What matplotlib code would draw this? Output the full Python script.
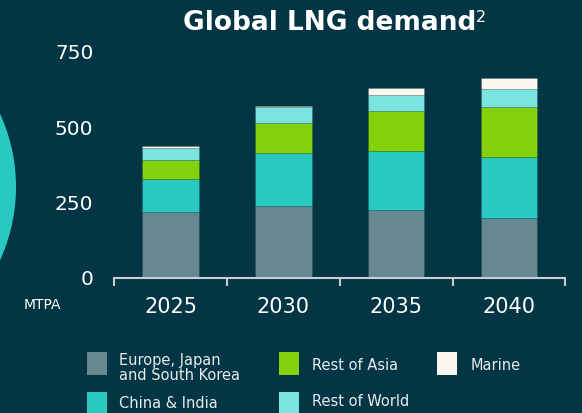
import matplotlib
matplotlib.use("Agg")
import matplotlib.pyplot as plt
from matplotlib.patches import Rectangle, Ellipse
import numpy as np

# Datos (MTPA)
years = ["2025", "2030", "2035", "2040"]
europe_japan_korea = [219, 239, 225, 198]
china_india = [110, 175, 195, 202]
rest_of_asia = [61, 100, 134, 166]
rest_of_world = [40, 52, 52, 59]
marine = [8, 5, 23, 39]

labels = ["Europe, Japan\nand South Korea", "China & India", "Rest of Asia",
          "Rest of World", "Marine"]
colors = ["#668890", "#29c9c1", "#84d20c", "#7ae5e0", "#faf7f0"]
bg = "#033645"

W, H = 582, 413
fig = plt.figure(figsize=(W / 100, H / 100), dpi=100, facecolor=bg)

def fx(px):
    return px / W

def fy(py):
    return 1 - py / H

# circulo decorativo a la izquierda
fig.add_artist(Ellipse((fx(-160), fy(187)), 2 * 176 / W, 2 * 176 / H,
                       facecolor="#29c9c1", edgecolor="none",
                       transform=fig.transFigure))

ax = fig.add_axes([fx(114.3), fy(277.7), (565.3 - 114.3) / W, (277.7 - 51.7) / H])
ax.set_facecolor(bg)

series = [europe_japan_korea, china_india, rest_of_asia, rest_of_world, marine]
x = np.arange(len(years))
bottom = np.zeros(len(years))
for vals, c in zip(series, colors):
    ax.bar(x, vals, 0.5, bottom=bottom, color=c, edgecolor=(0, 0, 0, 0.12),
           linewidth=0.7)
    bottom += np.array(vals)

ax.set_xlim(-0.5, 3.5)
ax.set_ylim(0, 750)
for s in ["top", "right", "left"]:
    ax.spines[s].set_visible(False)
ax.spines["bottom"].set_color("#c8ced2")
ax.spines["bottom"].set_linewidth(1.5)

ax.set_xticks(x)
ax.set_xticklabels(years)
ax.set_xticks(np.arange(-0.5, 4, 1), minor=True)
ax.tick_params(axis="x", which="major", length=0, pad=14, labelsize=15,
               labelcolor="white")
ax.tick_params(axis="x", which="minor", length=6, width=1.5, color="#c8ced2",
               direction="out")
ax.set_yticks([0, 250, 500, 750])
ax.tick_params(axis="y", length=0, pad=15, labelsize=14.5, labelcolor="white")

fig.text(fx(42), fy(305), "MTPA", color="white", fontsize=10,
         ha="center", va="center")

fig.text(fx(183), fy(23), "Global LNG demand", color="white",
         fontsize=19, fontweight="bold", ha="left", va="center")
fig.text(fx(476), fy(17), "2", color="white", fontsize=11.5,
         ha="left", va="center")

# leyenda manual
legend_pos = [(87.3, 352.3, 119.3, 368), (87.3, 392.3, 119.3, 404),
              (279.3, 352.3, 312.3, 365), (279.3, 392.3, 312.3, 401),
              (436.7, 352.3, 470.7, 365)]
for (sx, sy, tx, ty), lab, c in zip(legend_pos, labels, colors):
    fig.add_artist(Rectangle((fx(sx), fy(sy + 23)), 20 / W, 23 / H,
                             facecolor=c, edgecolor="none",
                             transform=fig.transFigure))
    fig.text(fx(tx), fy(ty), lab, color="#e8ecee", fontsize=10.5,
             ha="left", va="center", linespacing=1.0)

fig.savefig("out.png", dpi=100, facecolor=bg)
